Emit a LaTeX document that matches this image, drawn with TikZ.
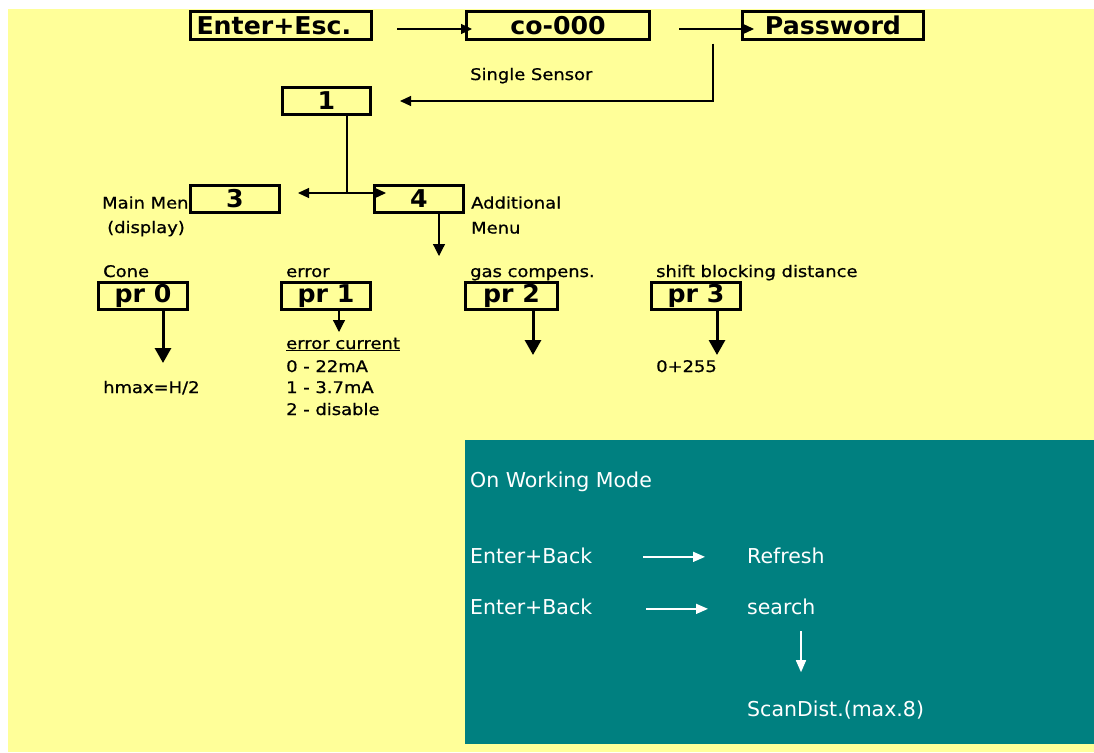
\documentclass[tikz,border=0pt]{standalone}
\usepackage{fontspec}
\setmainfont{DejaVu Sans}
\newfontfamily\lblfont[FakeStretch=1.12,FakeBold=0.8]{DejaVu Sans}
\newfontfamily\boxfont[FakeStretch=1.03]{DejaVu Sans Bold}
\usetikzlibrary{arrows.meta}
\definecolor{bgyellow}{HTML}{FFFF99}
\definecolor{panelteal}{HTML}{008080}
\begin{document}
\begin{tikzpicture}[x=1pt,y=-1pt,
  box/.style={draw=black, line width=3pt, minimum height=27.5pt, inner sep=0pt,
    font=\boxfont\fontsize{24.5pt}{24.5pt}\selectfont},
  lbl/.style={inner sep=0pt, anchor=base west, font=\lblfont\fontsize{16pt}{18pt}\selectfont},
  wt/.style={inner sep=0pt, anchor=base west, text=white, font=\fontsize{20.5pt}{24pt}\selectfont},
  thinarr/.style={line width=1.2pt, -{Triangle[length=11pt,width=10pt]}},
  midarr/.style={line width=1.2pt, -{Triangle[length=12pt,width=12pt]}},
  thickarr/.style={line width=3pt, -{Triangle[length=15pt,width=16pt]}},
  warr/.style={draw=white, line width=1.5pt, -{Triangle[length=12pt,width=10pt]}, white},
  plain/.style={line width=1.2pt}
]
\useasboundingbox (0,0) rectangle (1094,752);
\fill[white] (0,0) rectangle (1094,752);
\fill[bgyellow] (8,9) rectangle (1094,752);
\fill[panelteal] (465,440) rectangle (1094,744);

% boxes
\node[box, minimum width=181pt, text width=169pt, inner xsep=6pt, align=left] (ee) at (281,25.5) {Enter+Esc.};
\node[box, minimum width=183pt] (co) at (558,25.5) {co-000};
\node[box, minimum width=181pt] (pw) at (833,25.5) {Password};
\node[box, minimum width=88pt] (one) at (326.5,101) {1};
\node[box, minimum width=89pt] (three) at (235,199) {3};
\node[box, minimum width=89pt] (four) at (419,199) {4};
\node[box, minimum width=89pt] (pr0) at (143,296) {pr 0};
\node[box, minimum width=89pt] (pr1) at (326,296) {pr 1};
\node[box, minimum width=92pt] (pr2) at (511.5,296) {pr 2};
\node[box, minimum width=89pt] (pr3) at (696,296) {pr 3};

\draw[thinarr, shorten <=24pt, shorten >=-7pt] ([yshift=-3.5pt]ee.east) -- ([yshift=-3.5pt]co.west);
\draw[thinarr, shorten <=28pt, shorten >=-13pt] ([yshift=-3.5pt]co.east) -- ([yshift=-3.5pt]pw.west);
\draw[thinarr] ([xshift=-28pt,yshift=-3pt]pw.south west) |- ([xshift=28pt]one.east);
\node[lbl] (ss) at (470,80) {Single Sensor};

\coordinate (j) at (347,193);
\draw[plain] (one.south -| j) -- (j);
\draw[thinarr, shorten >=17pt] (j) -- (three.east |- j);
\draw[thinarr, shorten >=-13pt] (j) -- (four.west |- j);
\coordinate (a4) at (439,256);
\draw[midarr] (four.south -| a4) -- (a4);

\node[lbl] (mm) at (102,208.5) {Main Men};
\node[lbl] (disp) at (107,233) {(display)};
\node[lbl] (add) at (471,208.5) {Additional};
\node[lbl] (menu) at (471,233.5) {Menu};

\node[lbl] (cone) at (103,277) {Cone};
\node[lbl] (err) at (286,277) {error};
\node[lbl] (gas) at (470,277) {gas compens.};
\node[lbl] (shift) at (656,277) {shift blocking distance};

\coordinate (p0e) at (163,363);
\coordinate (p1e) at (339,332);
\coordinate (p2e) at (533,355);
\coordinate (p3e) at (717,355);
\draw[thickarr] (pr0.south -| p0e) -- (p0e);
\draw[midarr] (pr1.south -| p1e) -- (p1e);
\draw[thickarr] (pr2.south -| p2e) -- (p2e);
\draw[thickarr] (pr3.south -| p3e) -- (p3e);

\node[lbl] (hmax) at (103,393) {hmax=H/2};
\node[lbl] (ec) at (286,349) {\underline{error current}};
\node[lbl] (e0) at (286,372) {0 - 22mA};
\node[lbl] (e1) at (286,393) {1 - 3.7mA};
\node[lbl] (e2) at (286,415) {2 - disable};
\node[lbl] (rng) at (656,372) {0+255};

% working mode panel
\node[wt] (owm) at (470,487) {On Working Mode};
\node[wt] (eb1) at (470,563) {Enter+Back};
\node[wt] (ref) at (747,563) {Refresh};
\node[wt] (eb2) at (470,614) {Enter+Back};
\node[wt] (srch) at (747,614) {search};
\node[wt] (scan) at (747,716) {ScanDist.(max.8)};
\draw[warr] ([xshift=-104pt,yshift=-1.5pt]ref.west) -- ([xshift=-42pt,yshift=-1.5pt]ref.west);
\draw[warr] ([xshift=-101pt,yshift=-2.5pt]srch.west) -- ([xshift=-39pt,yshift=-2.5pt]srch.west);
\draw[warr] ([xshift=54pt,yshift=-17pt]srch.south west) -- ([xshift=54pt,yshift=28pt]scan.north west);
\end{tikzpicture}
\end{document}
